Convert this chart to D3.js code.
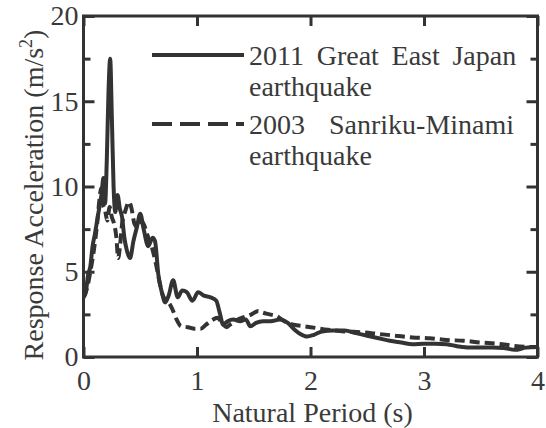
<!DOCTYPE html>
<html>
<head>
<meta charset="utf-8">
<script src="https://cdn.jsdelivr.net/npm/d3@7"></script>
<style>
  html, body { margin: 0; padding: 0; background: #fff; }
  svg { display: block; }
  text { font-family: "Liberation Serif", "Times New Roman", serif; fill: #3a3a3a; }
</style>
</head>
<body>
<svg id="chart" width="546" height="428"></svg>
<script>
// ---- Data ----
const period2011 = [0, 0.02, 0.04, 0.06, 0.08, 0.10, 0.12, 0.14, 0.16, 0.175, 0.19, 0.205, 0.22, 0.235, 0.25, 0.265, 0.28, 0.30, 0.32, 0.34, 0.36, 0.38, 0.41, 0.44, 0.47, 0.50, 0.53, 0.57, 0.61, 0.63, 0.66, 0.69, 0.72, 0.75, 0.79, 0.83, 0.87, 0.91, 0.96, 1.01, 1.06, 1.12, 1.17, 1.20, 1.23, 1.27, 1.32, 1.38, 1.43, 1.47, 1.52, 1.58, 1.65, 1.73, 1.80, 1.86, 1.91, 1.97, 2.03, 2.10, 2.2, 2.3, 2.4, 2.5, 2.6, 2.7, 2.8, 2.9, 3.0, 3.1, 3.2, 3.3, 3.4, 3.5, 3.6, 3.7, 3.8, 3.9, 4.0];
const accel2011  = [3.5, 3.8, 4.8, 5.3, 6.5, 7.2, 8.0, 8.8, 9.6, 10.5, 9.0, 11.5, 15.5, 17.5, 14.0, 10.0, 8.5, 9.5, 8.7, 8.2, 7.0, 6.3, 5.8, 6.8, 7.6, 8.4, 7.5, 6.5, 7.0, 6.8, 4.8, 3.8, 3.2, 3.6, 4.5, 3.5, 3.9, 3.8, 3.3, 3.8, 3.6, 3.5, 3.3, 2.6, 1.9, 2.1, 2.2, 2.1, 2.2, 1.8, 2.0, 2.1, 2.1, 2.2, 2.0, 1.6, 1.35, 1.2, 1.3, 1.5, 1.55, 1.55, 1.4, 1.25, 1.1, 0.95, 0.85, 0.75, 0.78, 0.78, 0.75, 0.62, 0.55, 0.55, 0.55, 0.53, 0.42, 0.55, 0.58];

const period2003 = [0, 0.03, 0.06, 0.09, 0.12, 0.14, 0.155, 0.17, 0.19, 0.21, 0.23, 0.25, 0.27, 0.29, 0.305, 0.32, 0.34, 0.37, 0.40, 0.42, 0.45, 0.48, 0.52, 0.56, 0.60, 0.64, 0.67, 0.70, 0.73, 0.76, 0.79, 0.82, 0.86, 0.92, 0.98, 1.03, 1.08, 1.13, 1.18, 1.22, 1.26, 1.30, 1.36, 1.42, 1.48, 1.54, 1.58, 1.64, 1.70, 1.77, 1.85, 1.95, 2.05, 2.15, 2.3, 2.45, 2.6, 2.75, 2.9, 3.05, 3.2, 3.35, 3.5, 3.65, 3.8, 3.9, 4.0];
const accel2003  = [3.5, 4.0, 5.0, 6.2, 7.8, 9.2, 9.9, 9.0, 8.6, 8.0, 8.8, 8.2, 7.8, 7.0, 5.8, 6.4, 7.8, 8.6, 9.1, 8.8, 7.8, 7.6, 7.9, 7.2, 6.5, 5.4, 4.4, 3.6, 3.3, 3.1, 2.7, 2.2, 1.8, 1.75, 1.65, 1.65, 1.9, 2.15, 2.3, 2.0, 1.75, 1.95, 2.2, 2.35, 2.5, 2.7, 2.6, 2.5, 2.4, 2.1, 1.9, 1.8, 1.7, 1.6, 1.5, 1.45, 1.35, 1.25, 1.15, 1.1, 1.0, 0.95, 0.85, 0.78, 0.65, 0.6, 0.58];

const xTicks = [0, 1, 2, 3, 4];
const yMajorTicks = [0, 5, 10, 15, 20];
const yMinorTicks = [2.5, 7.5, 12.5, 17.5];
const seriesNames = ["2011 Great East Japan", "2003 Sanriku-Minami"];
const seriesSecondLine = ["earthquake", "earthquake"];
const xTitle = "Natural Period (s)";
const yTitle = "Response Acceleration (m/s";

// ---- Layout ----
const svg = d3.select("#chart");
const plotLeft = 83.5, plotRight = 537.5, plotTop = 16, plotBottom = 357;
const ink = "#333";

const x = d3.scaleLinear().domain([0, 4]).range([plotLeft, plotRight]);
const y = d3.scaleLinear().domain([0, 20]).range([plotBottom, plotTop]);

// Curves
const line = d3.line().x(d => x(d[0])).y(d => y(d[1])).curve(d3.curveMonotoneX);
const data2011 = period2011.map((p, i) => [p, accel2011[i]]);
const data2003 = period2003.map((p, i) => [p, accel2003[i]]);

svg.append("clipPath").attr("id", "clip")
  .append("rect").attr("x", plotLeft).attr("y", plotTop)
  .attr("width", plotRight - plotLeft).attr("height", plotBottom - plotTop);

const plot = svg.append("g").attr("clip-path", "url(#clip)");
plot.append("path").datum(data2003).attr("d", line)
  .attr("fill", "none").attr("stroke", ink).attr("stroke-width", 4)
  .attr("stroke-dasharray", "10,5");
plot.append("path").datum(data2011).attr("d", line)
  .attr("fill", "none").attr("stroke", ink).attr("stroke-width", 4)
  .attr("stroke-linejoin", "round");

// Axes (ticks inward)
function styleAxis(g) {
  g.select(".domain").remove();
  g.selectAll(".tick line").attr("stroke", ink).attr("stroke-width", 3);
  g.selectAll(".tick text").attr("fill", "#3a3a3a")
    .style("font-family", '"Liberation Serif", serif').style("font-size", "28px");
}

svg.append("g").attr("transform", `translate(0,${plotBottom})`)
  .call(d3.axisBottom(x).tickValues(xTicks).tickSizeInner(-10).tickSizeOuter(0).tickPadding(13).tickFormat(d3.format("d")))
  .call(styleAxis);
svg.append("g").attr("transform", `translate(0,${plotTop})`)
  .call(d3.axisTop(x).tickValues(xTicks).tickSizeInner(-10).tickSizeOuter(0).tickFormat(""))
  .call(styleAxis);
svg.append("g").attr("transform", `translate(${plotLeft},0)`)
  .call(d3.axisLeft(y).tickValues(yMajorTicks).tickSizeInner(-11).tickSizeOuter(0).tickPadding(5).tickFormat(d3.format("d")))
  .call(styleAxis);
svg.append("g").attr("transform", `translate(${plotLeft},0)`)
  .call(d3.axisLeft(y).tickValues(yMinorTicks).tickSizeInner(-7).tickSizeOuter(0).tickFormat(""))
  .call(styleAxis);
svg.append("g").attr("transform", `translate(${plotRight},0)`)
  .call(d3.axisRight(y).tickValues(yMajorTicks).tickSizeInner(-11).tickSizeOuter(0).tickFormat(""))
  .call(styleAxis);
svg.append("g").attr("transform", `translate(${plotRight},0)`)
  .call(d3.axisRight(y).tickValues(yMinorTicks).tickSizeInner(-7).tickSizeOuter(0).tickFormat(""))
  .call(styleAxis);

// Frame
svg.append("rect").attr("x", plotLeft).attr("y", plotTop)
  .attr("width", plotRight - plotLeft).attr("height", plotBottom - plotTop)
  .attr("fill", "none").attr("stroke", ink).attr("stroke-width", 3);

// Axis titles
svg.append("text").attr("x", (plotLeft + plotRight) / 2 + 2).attr("y", 422)
  .attr("text-anchor", "middle").style("font-size", "28px").text(xTitle);

const yt = svg.append("text").attr("transform", "translate(43,195) rotate(-90)")
  .attr("text-anchor", "middle").style("font-size", "28px");
yt.append("tspan").text(yTitle);
yt.append("tspan").attr("dy", -11).style("font-size", "18px").text("2");
yt.append("tspan").attr("dy", 11).text(")");

// Legend
const legendRows = [
  { name: seriesNames[0], sub: seriesSecondLine[0], lineY: 55, base: 65, dash: null, ws: 5.7 },
  { name: seriesNames[1], sub: seriesSecondLine[1], lineY: 124, base: 134, dash: "20,8", ws: 17 }
];
const lg = svg.append("g");
legendRows.forEach(r => {
  lg.append("line").attr("x1", 152).attr("x2", 244).attr("y1", r.lineY).attr("y2", r.lineY)
    .attr("stroke", ink).attr("stroke-width", 4).attr("stroke-dasharray", r.dash);
  lg.append("text").attr("x", 249).attr("y", r.base).style("font-size", "28px")
    .style("word-spacing", r.ws + "px").text(r.name);
  lg.append("text").attr("x", 249).attr("y", r.base + 31).style("font-size", "28px").text(r.sub);
});
</script>
</body>
</html>
